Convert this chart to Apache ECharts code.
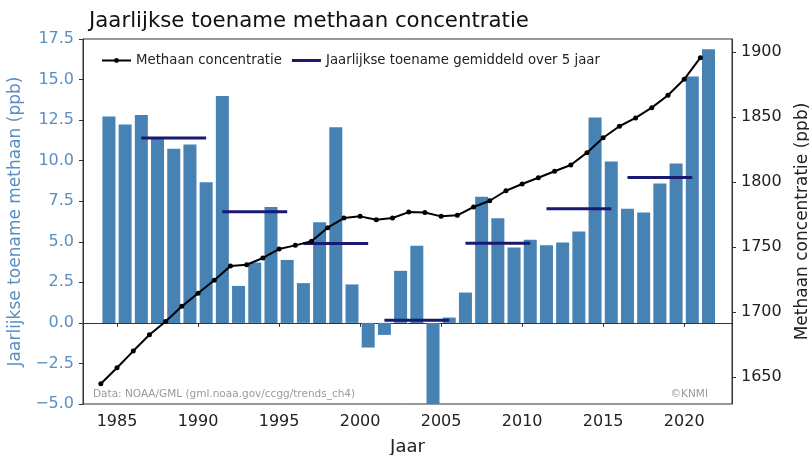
<!DOCTYPE html>
<html>
<head>
<meta charset="utf-8">
<script src="https://cdn.jsdelivr.net/npm/echarts@6/dist/echarts.min.js"></script>
<style>
html,body{margin:0;padding:0;background:#fff;}
#chart{width:809px;height:455px;}
</style>
</head>
<body>
<div id="chart"></div>
<script>
// ---- data ----
const years = [1984,1985,1986,1987,1988,1989,1990,1991,1992,1993,1994,1995,1996,1997,1998,1999,
  2000,2001,2002,2003,2004,2005,2006,2007,2008,2009,2010,2011,2012,2013,2014,2015,2016,2017,2018,2019,2020,2021];
const growth = [12.72,12.23,12.82,11.35,10.73,10.99,8.67,13.98,
  2.28,3.72,7.15,3.88,2.45,6.2,12.06,2.37,
  -1.52,-0.74,3.21,4.75,-5.3,0.33,1.87,7.77,
  6.45,4.64,5.12,4.79,4.95,5.63,12.66,9.95,
  7.03,6.80,8.59,9.82,15.19,16.87];
const concentration = [1645.1,1657.4,1670.2,1682.7,1693.0,1704.6,1714.6,1724.6,1735.6,1736.6,
  1741.8,1748.7,1751.5,1754.6,1765.1,1772.5,1773.8,1771.2,1772.5,1777.1,
  1776.8,1773.8,1774.6,1781.0,1785.8,1793.5,1798.7,1803.5,1808.5,1813.3,
  1822.8,1834.3,1843.1,1849.5,1857.4,1866.9,1879.2,1895.8];
const periodStart = [1986,1991,1996,2001,2006,2011,2016];
const periodEnd   = [1990,1995,2000,2005,2010,2015,2020];
const periodAvg   = [11.39,6.85,4.9,0.17,4.91,7.03,8.96];
const xTicks = [1985,1990,1995,2000,2005,2010,2015,2020];
const leftTicks = [-5,-2.5,0,2.5,5,7.5,10,12.5,15,17.5];
const rightTicks = [1650,1700,1750,1800,1850,1900];

// ---- build ----
const BAR_SHIFT = 0.5; // bars sit in the middle of their year
const barData = years.map((y,i)=>[y+BAR_SHIFT, growth[i]]);
const lineData = years.map((y,i)=>[y, concentration[i]]);
const avgData = [];
periodStart.forEach((s,i)=>{
  avgData.push([s+BAR_SHIFT, periodAvg[i]]);
  avgData.push([periodEnd[i]+BAR_SHIFT, periodAvg[i]]);
  avgData.push([periodEnd[i]+BAR_SHIFT+0.01, null]);
});
const fmtMinus = v => (v<0?'\u2212':'') + Math.abs(v).toFixed(1);
const FONT = 'DejaVu Sans';
const blueText = '#5b8fc0';

const chart = echarts.init(document.getElementById('chart'), null, {renderer:'canvas'});
chart.setOption({
  animation:false,
  backgroundColor:'#fff',
  textStyle:{fontFamily:FONT},
  title:{
    text:'Jaarlijkse toename methaan concentratie',
    left:84, top:6,
    textStyle:{fontFamily:FONT, fontSize:21.3, fontWeight:'normal', color:'#111'}
  },
  legend:{
    data:[
      {name:'Methaan concentratie'},
      {name:'Jaarlijkse toename gemiddeld over 5 jaar', icon:'path://M0,0L29,0L29,3L0,3Z'}
    ],
    left:96, top:49,
    itemWidth:29, itemHeight:6, itemGap:10,
    textStyle:{fontFamily:FONT, fontSize:13.3, color:'#222'}
  },
  grid:{left:83, right:77, top:39, bottom:51, outerBoundsMode:'none', containLabel:false,
    show:true, borderColor:'#333', borderWidth:1, backgroundColor:'transparent'},
  xAxis:{
    type:'value', min:1982.9, max:2022.95,
    name:'Jaar', nameLocation:'middle', nameGap:34,
    nameTextStyle:{fontFamily:FONT, fontSize:18, color:'#222'},
    axisLine:{show:true, lineStyle:{color:'#333'}},
    axisTick:{show:true, length:4, lineStyle:{color:'#333'}, customValues:xTicks},
    axisLabel:{fontFamily:FONT, fontSize:16, color:'#222', margin:10, customValues:xTicks, formatter:v=>String(v)},
    splitLine:{show:false}
  },
  yAxis:[{
    type:'value', min:-5, max:17.5, position:'left',
    name:'Jaarlijkse toename methaan (ppb)', nameLocation:'middle', nameRotate:90, nameGap:54,
    nameTextStyle:{fontFamily:FONT, fontSize:17, color:blueText},
    axisLine:{show:true, lineStyle:{color:'#333'}},
    axisTick:{show:true, length:4, lineStyle:{color:'#333'}, customValues:leftTicks},
    axisLabel:{fontFamily:FONT, fontSize:16, color:blueText, margin:9, customValues:leftTicks, formatter:fmtMinus},
    splitLine:{show:false}
  },{
    type:'value', min:1629.5, max:1910.2, position:'right',
    name:'Methaan concentratie (ppb)', nameLocation:'middle', nameRotate:90, nameGap:62,
    nameTextStyle:{fontFamily:FONT, fontSize:17, color:'#222'},
    axisLine:{show:true, lineStyle:{color:'#333'}},
    axisTick:{show:true, length:4, lineStyle:{color:'#333'}, customValues:rightTicks},
    axisLabel:{fontFamily:FONT, fontSize:16, color:'#222', margin:9, customValues:rightTicks, formatter:v=>String(v)},
    splitLine:{show:false}
  }],
  series:[{
    name:'Jaarlijkse toename', type:'bar', data:barData, barWidth:13, clip:true,
    itemStyle:{color:'#4682b4'}, z:1
  },{
    name:'Jaarlijkse toename gemiddeld over 5 jaar', type:'line', data:avgData,
    showSymbol:false, symbol:'none', connectNulls:false,
    lineStyle:{color:'#191970', width:3}, itemStyle:{color:'#191970'}, z:3
  },{
    name:'Methaan concentratie', type:'line', yAxisIndex:1, data:lineData,
    symbol:'circle', symbolSize:5, showSymbol:true,
    lineStyle:{color:'#000', width:2}, itemStyle:{color:'#000'}, z:4
  }],
  graphic:[{
    type:'text', left:93, top:389,
    style:{text:'Data: NOAA/GML (gml.noaa.gov/ccgg/trends_ch4)', font:'10.5px "DejaVu Sans"', fill:'#9a9a9a'}
  },{
    type:'text', right:101, top:389,
    style:{text:'\u00a9KNMI', font:'10.5px "DejaVu Sans"', fill:'#9a9a9a'}
  }]
});
</script>
</body>
</html>
